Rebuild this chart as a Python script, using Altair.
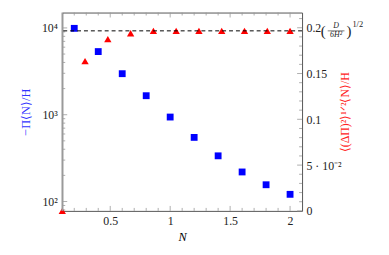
import altair as alt
import pandas as pd

# ---- data ----
N_blue = [0.2, 0.4, 0.6, 0.8, 1.0, 1.2, 1.4, 1.6, 1.8, 2.0]
v_blue = [9890, 5340, 2970, 1656, 940, 548, 336, 219, 156, 121]

N_red = [0.1, 0.29, 0.48, 0.67, 0.86, 1.05, 1.24, 1.43, 1.62, 1.81, 2.0]
v_red = [0.0, 0.1635, 0.1875, 0.194, 0.1966, 0.1966, 0.1966, 0.1966, 0.1966, 0.1966, 0.1966]

dash_level = [0.1966]

x_major = [0.5, 1.0, 1.5, 2.0]
x_minor = [round(0.1 * i, 2) for i in range(2, 21) if i % 5 != 0]
left_major = [100, 1000, 10000]
left_minor = [80, 90] + [k * 100 for k in range(2, 10)] + [k * 1000 for k in range(2, 10)]
right_major = [0.0, 0.05, 0.1, 0.15, 0.2]
right_minor = [round(0.01 * i, 2) for i in range(1, 22) if i % 5 != 0]

W, H = 243, 201
FONT = "Liberation Serif"

xscale = alt.Scale(domain=[0.1, 2.1], nice=False, zero=False)
lscale = alt.Scale(type="log", domain=[78, 15040], nice=False)
rscale = alt.Scale(domain=[0, 0.2166], nice=False, zero=False)

df_blue = pd.DataFrame({"N": N_blue, "v": v_blue})
df_red = pd.DataFrame({"N": N_red, "v": v_red})
df_dash = pd.DataFrame({"v": dash_level})

blue_pts = alt.Chart(df_blue).mark_square(size=48, color="#0000ff", opacity=1).encode(
    x=alt.X("N:Q", scale=xscale,
            axis=alt.Axis(values=x_major, ticks=False, domain=False, grid=False,
                          labelPadding=5, title="N", titleFontStyle="italic",
                          titleFontWeight="normal", titlePadding=4, titleFontSize=12.5,
                          format="~g")),
    y=alt.Y("v:Q", scale=lscale,
            axis=alt.Axis(orient="left", values=left_major, ticks=False, domain=False,
                          grid=False, labelPadding=5, title="−Π⟨N⟩/H",
                          titleColor="#3333ff", titleFontWeight="normal", titlePadding=9,
                          titleFontSize=12.5,
                          labelExpr="datum.value == 100 ? '10²' : datum.value == 1000 ? '10³' : '10⁴'")),
)

red_pts = alt.Chart(df_red).mark_point(shape="triangle-up", size=55, filled=True,
                                        color="#ff0000", opacity=1).encode(
    x=alt.X("N:Q", scale=xscale),
    y=alt.Y("v:Q", scale=rscale,
            axis=alt.Axis(orient="right", values=right_major, ticks=False, domain=False,
                          grid=False, labelPadding=4, title="⟨(ΔΠ)²⟩¹ᐟ²⟨N⟩/H",
                          titleColor="#ff2222", titleFontWeight="normal", titlePadding=10,
                          titleAngle=270, titleFontSize=12,
                          labelExpr="datum.value == 0 ? '0' : datum.value == 0.05 ? '5 · 10⁻²' : format(datum.value, '~g')")),
)


def xticks(vals, length, top):
    d = pd.DataFrame({"t": vals})
    y0 = 0 if top else H
    y1 = length if top else H - length
    return alt.Chart(d).mark_rule(color="#999999", strokeWidth=0.8).encode(
        x=alt.X("t:Q", scale=xscale), y=alt.value(y0), y2=alt.value(y1))


def yticks(vals, length, scale, right):
    d = pd.DataFrame({"t": vals})
    x0 = W if right else 0
    x1 = W - length if right else length
    return alt.Chart(d).mark_rule(color="#999999", strokeWidth=0.8).encode(
        y=alt.Y("t:Q", scale=scale, axis=None), x=alt.value(x0), x2=alt.value(x1))


left_edge = alt.Chart(df_dash).mark_rule(color="#9a9a9a", strokeWidth=1.6).encode(
    x=alt.value(0), y=alt.value(0), y2=alt.value(H))

dash = alt.Chart(df_dash).mark_rule(color="black", strokeDash=[4, 3], strokeWidth=1).encode(
    y=alt.Y("v:Q", scale=rscale, axis=None))


def ann(text, dx, dy, size, italic=False, align="left"):
    return alt.Chart(df_dash).mark_text(text=text, align=align, baseline="middle",
                                        dx=dx, dy=dy, fontSize=size, font=FONT,
                                        fontStyle="italic" if italic else "normal",
                                        color="#222222").encode(
        x=alt.value(W), y=alt.Y("v:Q", scale=rscale, axis=None))


frac_bar = alt.Chart(df_dash).mark_rule(color="#222222", strokeWidth=0.6).encode(
    x=alt.value(W + 26), x2=alt.value(W + 43), y=alt.Y("v:Q", scale=rscale, axis=None))

chart = alt.layer(
    blue_pts,
    red_pts,
    left_edge,
    xticks(x_minor, 3, False), xticks(x_major, 5, False),
    xticks(x_minor, 3, True), xticks(x_major, 5, True),
    yticks(left_minor, 3, lscale, False), yticks(left_major, 5, lscale, False),
    yticks(right_minor, 3, rscale, True), yticks(right_major, 5, rscale, True),
    dash,
    ann("(", 19, 0, 15),
    ann("D", 34.5, -4.5, 8, True, "center"),
    ann("6H²", 34.5, 4.5, 8, True, "center"),
    ann(")", 45, 0, 15),
    ann("1/2", 51, -7, 8.5),
    frac_bar,
).resolve_scale(y="independent").properties(
    width=W, height=H,
    autosize=alt.AutoSizeParams(type="none"),
    padding={"left": 55, "top": 3, "right": 80, "bottom": 35},
    background="white",
).configure_view(stroke="#555555", strokeWidth=1).configure_axis(
    labelFont=FONT, labelFontSize=12, labelColor="#222222",
    titleFont=FONT, titleFontSize=12,
)

chart.save("out.html", embed_options={"renderer": "svg", "actions": False})
